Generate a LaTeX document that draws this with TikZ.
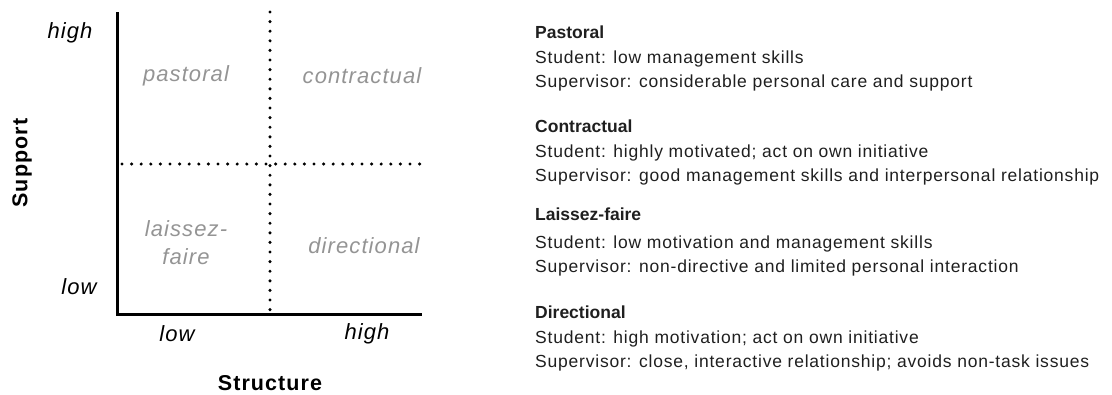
\documentclass[tikz,border=0pt]{standalone}
\usepackage{fontspec}
\setmainfont{Liberation Sans}
\newfontfamily\widesans[LetterSpace=5]{Liberation Sans}
\newfontfamily\bodysans[LetterSpace=4.5]{Liberation Sans}
\usetikzlibrary{positioning}
\newcommand{\blocktitle}[2][1.5pt]{{\rmfamily\fontsize{17.5}{20}\selectfont\bfseries #2}\\[#1]}

\begin{document}
\begin{tikzpicture}[x=1pt,y=-1pt,
    axis/.style={line width=3pt},
    divider/.style={line width=3.4pt, dash pattern=on 0pt off 9.6pt, line cap=round},
    level/.style={font=\widesans\fontsize{22}{24}\selectfont\itshape},
    quadrant/.style={text=black!42, align=center, font=\widesans\fontsize{22}{28}\selectfont\itshape},
    axislabel/.style={font=\widesans\fontsize{21.5}{24}\selectfont\bfseries},
    style block/.style={anchor=north west, align=left, inner sep=0pt,
      font=\bodysans\fontsize{17.5}{23.4}\selectfont, text=black!88}]
  \useasboundingbox (0,0) rectangle (1112,394);

  % axes
  \coordinate (o) at (117,314);
  \coordinate (ytop) at (117,12);
  \coordinate (xend) at (422,314);
  \draw[axis] (ytop) -- (o) -- (xend);

  % quadrant dividers
  \coordinate (vtop) at (270,12);
  \coordinate (vbot) at (270,314);
  \coordinate (hleft) at (122,164);
  \coordinate (hright) at (424,164);
  \draw[divider] (vtop) -- (vbot);
  \draw[divider] (hleft) -- (hright);

  % level labels
  \node[level] (shigh) at (70,33) {high};
  \node[level] (slow) at (79,287) {low};
  \node[level] (xlow) at (177,334) {low};
  \node[level] (xhigh) at (367,334) {high};
  \node[axislabel, rotate=90] (support) at (22,163) {Support};
  \node[axislabel] (structure) at (270,383) {Structure};

  % quadrants
  \node[quadrant] (pastoral) at (186,76) {pastoral};
  \node[quadrant] (contractual) at (362,76) {contractual};
  \node[quadrant] (laissez) at (186,243) {laissez-\\faire};
  \node[quadrant] (directional) at (364,246) {directional};

  % descriptions
  \node[style block] (dpas) at (535,26) {\blocktitle{Pastoral}
    Student: low management skills\\
    Supervisor: considerable personal care and support};
  \node[style block] (dcon) at (535,120) {\blocktitle{Contractual}
    Student: highly motivated; act on own initiative\\
    Supervisor: good management skills and interpersonal relationship};
  \node[style block] (dlai) at (535,208) {\blocktitle[4.5pt]{Laissez-faire}
    Student: low motivation and management skills\\
    Supervisor: non-directive and limited personal interaction};
  \node[style block] (ddir) at (535,306) {\blocktitle{Directional}
    Student: high motivation; act on own initiative\\
    Supervisor: close, interactive relationship; avoids non-task issues};
\end{tikzpicture}
\end{document}
